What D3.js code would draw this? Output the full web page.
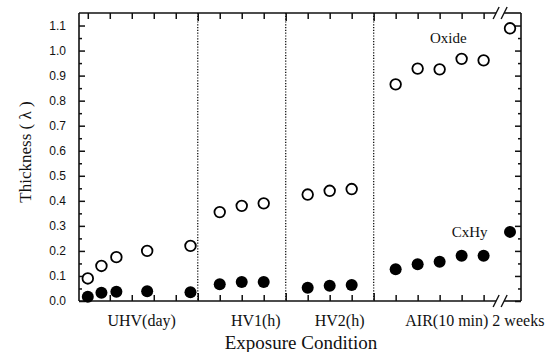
<!DOCTYPE html>
<html>
<head>
<meta charset="utf-8">
<script src="https://cdn.jsdelivr.net/npm/d3@7"></script>
<style>
  body { margin: 0; background: #fff; }
  .tickLabel text { font-family: "Liberation Sans", Arial, sans-serif; font-size: 12px; fill: #111; }
  .serif { font-family: "Liberation Serif", "Times New Roman", serif; fill: #111; }
</style>
</head>
<body>
<div class="chart"></div>
<script>
// Chart data (x in tick units along the exposure axis)
var xPos = [0, 0.62, 1.3, 2.7, 4.67, 6, 7, 8, 10, 11, 12, 14, 15, 16, 17, 18, 19.2];
var oxide = [0.09, 0.14, 0.175, 0.2, 0.22, 0.355, 0.38, 0.39, 0.425, 0.44, 0.447, 0.865, 0.928, 0.925, 0.967, 0.961, 1.089];
var cxhy = [0.017, 0.033, 0.037, 0.039, 0.035, 0.067, 0.076, 0.076, 0.053, 0.061, 0.064, 0.127, 0.147, 0.157, 0.181, 0.181, 0.276];

var conditionLabels = ["UHV(day)", "HV1(h)", "HV2(h)", "AIR(10 min) 2 weeks"];
var conditionCenters = [2.45, 7.64, 11.45, 17.6];
var dividers = [5, 9, 13];
var xTicks = d3.range(0, 19);
var yTicks = [0, 0.1, 0.2, 0.3, 0.4, 0.5, 0.6, 0.7, 0.8, 0.9, 1.0, 1.1];
var yMinorTicks = [0.05, 0.15, 0.25, 0.35, 0.45, 0.55, 0.65, 0.75, 0.85, 0.95, 1.05];
var breakAt = 18.75;

// Chart dimensions
var svgWidth = 558;
var svgHeight = 352;

var margin = { top: 13, right: 37, bottom: 51, left: 79 };
var width = svgWidth - margin.left - margin.right;
var height = svgHeight - margin.top - margin.bottom;

var svg = d3.select(".chart")
  .append("svg")
  .attr("width", svgWidth)
  .attr("height", svgHeight);

var chartGroup = svg.append("g")
  .attr("transform", `translate(${margin.left}, ${margin.top})`);

// Scales
var xScale = d3.scaleLinear().domain([-0.4, 19.7]).range([0, width]);
var yScale = d3.scaleLinear().domain([0, 1.15]).range([height, 0]);

// Dotted dividers between conditions
chartGroup.selectAll(".divider")
  .data(dividers)
  .enter()
  .append("line")
  .attr("x1", d => xScale(d))
  .attr("x2", d => xScale(d))
  .attr("y1", 0)
  .attr("y2", height)
  .attr("stroke", "#111")
  .attr("stroke-width", 1.3)
  .attr("stroke-dasharray", "1.2,1.6");

// Y axes (ticks pointing inward)
var leftAxis = d3.axisLeft(yScale).tickValues(yTicks).tickSize(-6).tickPadding(13)
  .tickFormat(d3.format(".1f"));
chartGroup.append("g").attr("class", "tickLabel").call(leftAxis)
  .call(g => g.select(".domain").remove());
chartGroup.append("g").call(d3.axisLeft(yScale).tickValues(yMinorTicks).tickSize(-3).tickFormat(""))
  .call(g => g.select(".domain").remove());

chartGroup.append("g").attr("transform", `translate(${width}, 0)`)
  .call(d3.axisRight(yScale).tickValues(yTicks).tickSize(-6).tickFormat(""))
  .call(g => g.select(".domain").remove());
chartGroup.append("g").attr("transform", `translate(${width}, 0)`)
  .call(d3.axisRight(yScale).tickValues(yMinorTicks).tickSize(-3).tickFormat(""))
  .call(g => g.select(".domain").remove());

// X axes (ticks pointing inward, longer at dividers)
var tickLen = d => dividers.indexOf(d) >= 0 ? 8 : 6;
chartGroup.append("g").attr("transform", `translate(0, ${height})`)
  .call(d3.axisBottom(xScale).tickValues(xTicks).tickSize(-6).tickFormat(""))
  .call(g => g.select(".domain").remove())
  .call(g => g.selectAll(".tick line").attr("y2", d => -tickLen(d)));
chartGroup.append("g")
  .call(d3.axisTop(xScale).tickValues(xTicks).tickSize(-6).tickFormat(""))
  .call(g => g.select(".domain").remove())
  .call(g => g.selectAll(".tick line").attr("y2", d => tickLen(d)));

chartGroup.selectAll(".tick line").attr("stroke", "#111").attr("stroke-width", 1.5);

// Frame with axis break
var gapL = xScale(breakAt) - 4;
var gapR = xScale(breakAt) + 4;
var frame = [
  [0, 0, 0, height],
  [width, 0, width, height],
  [0, 0, gapL, 0],
  [gapR, 0, width, 0],
  [0, height, gapL, height],
  [gapR, height, width, height]
];
chartGroup.selectAll(".frame")
  .data(frame)
  .enter()
  .append("line")
  .attr("x1", d => d[0]).attr("y1", d => d[1])
  .attr("x2", d => d[2]).attr("y2", d => d[3])
  .attr("stroke", "#111")
  .attr("stroke-width", 1.6);

// Break marks "//"
[0, height].forEach(y => {
  [-4, 4].forEach(dx => {
    chartGroup.append("line")
      .attr("x1", xScale(breakAt) + dx - 3).attr("y1", y + 6)
      .attr("x2", xScale(breakAt) + dx + 3).attr("y2", y - 6)
      .attr("stroke", "#111")
      .attr("stroke-width", 1.4);
  });
});

// Oxide (open circles)
chartGroup.selectAll(".oxide")
  .data(oxide)
  .enter()
  .append("circle")
  .attr("cx", (d, i) => xScale(xPos[i]))
  .attr("cy", d => yScale(d))
  .attr("r", 5.3)
  .attr("fill", "#fff")
  .attr("stroke", "#000")
  .attr("stroke-width", 1.8);

// CxHy (filled circles)
chartGroup.selectAll(".cxhy")
  .data(cxhy)
  .enter()
  .append("circle")
  .attr("cx", (d, i) => xScale(xPos[i]))
  .attr("cy", d => yScale(d))
  .attr("r", 6)
  .attr("fill", "#000");

// Series labels
chartGroup.append("text")
  .attr("class", "serif")
  .attr("x", xScale(15.56))
  .attr("y", yScale(1.03))
  .attr("font-size", "15px")
  .text("Oxide");

chartGroup.append("text")
  .attr("class", "serif")
  .attr("x", xScale(16.55))
  .attr("y", yScale(0.256))
  .attr("font-size", "15px")
  .text("CxHy");

// Condition labels
chartGroup.selectAll(".cond")
  .data(conditionLabels)
  .enter()
  .append("text")
  .attr("class", "serif")
  .attr("x", (d, i) => xScale(conditionCenters[i]))
  .attr("y", height + 25)
  .attr("text-anchor", "middle")
  .attr("font-size", "16px")
  .text(d => d);

// Axes labels
chartGroup.append("text")
  .attr("class", "serif")
  .attr("transform", `translate(${25 - margin.left}, ${152 - margin.top}) rotate(-90)`)
  .attr("dy", "0.35em")
  .attr("text-anchor", "middle")
  .attr("font-size", "17px")
  .text("Thickness ( λ )");

chartGroup.append("text")
  .attr("class", "serif")
  .attr("x", 301 - margin.left)
  .attr("y", height + 47.5)
  .attr("text-anchor", "middle")
  .attr("font-size", "19px")
  .text("Exposure Condition");
</script>
</body>
</html>
